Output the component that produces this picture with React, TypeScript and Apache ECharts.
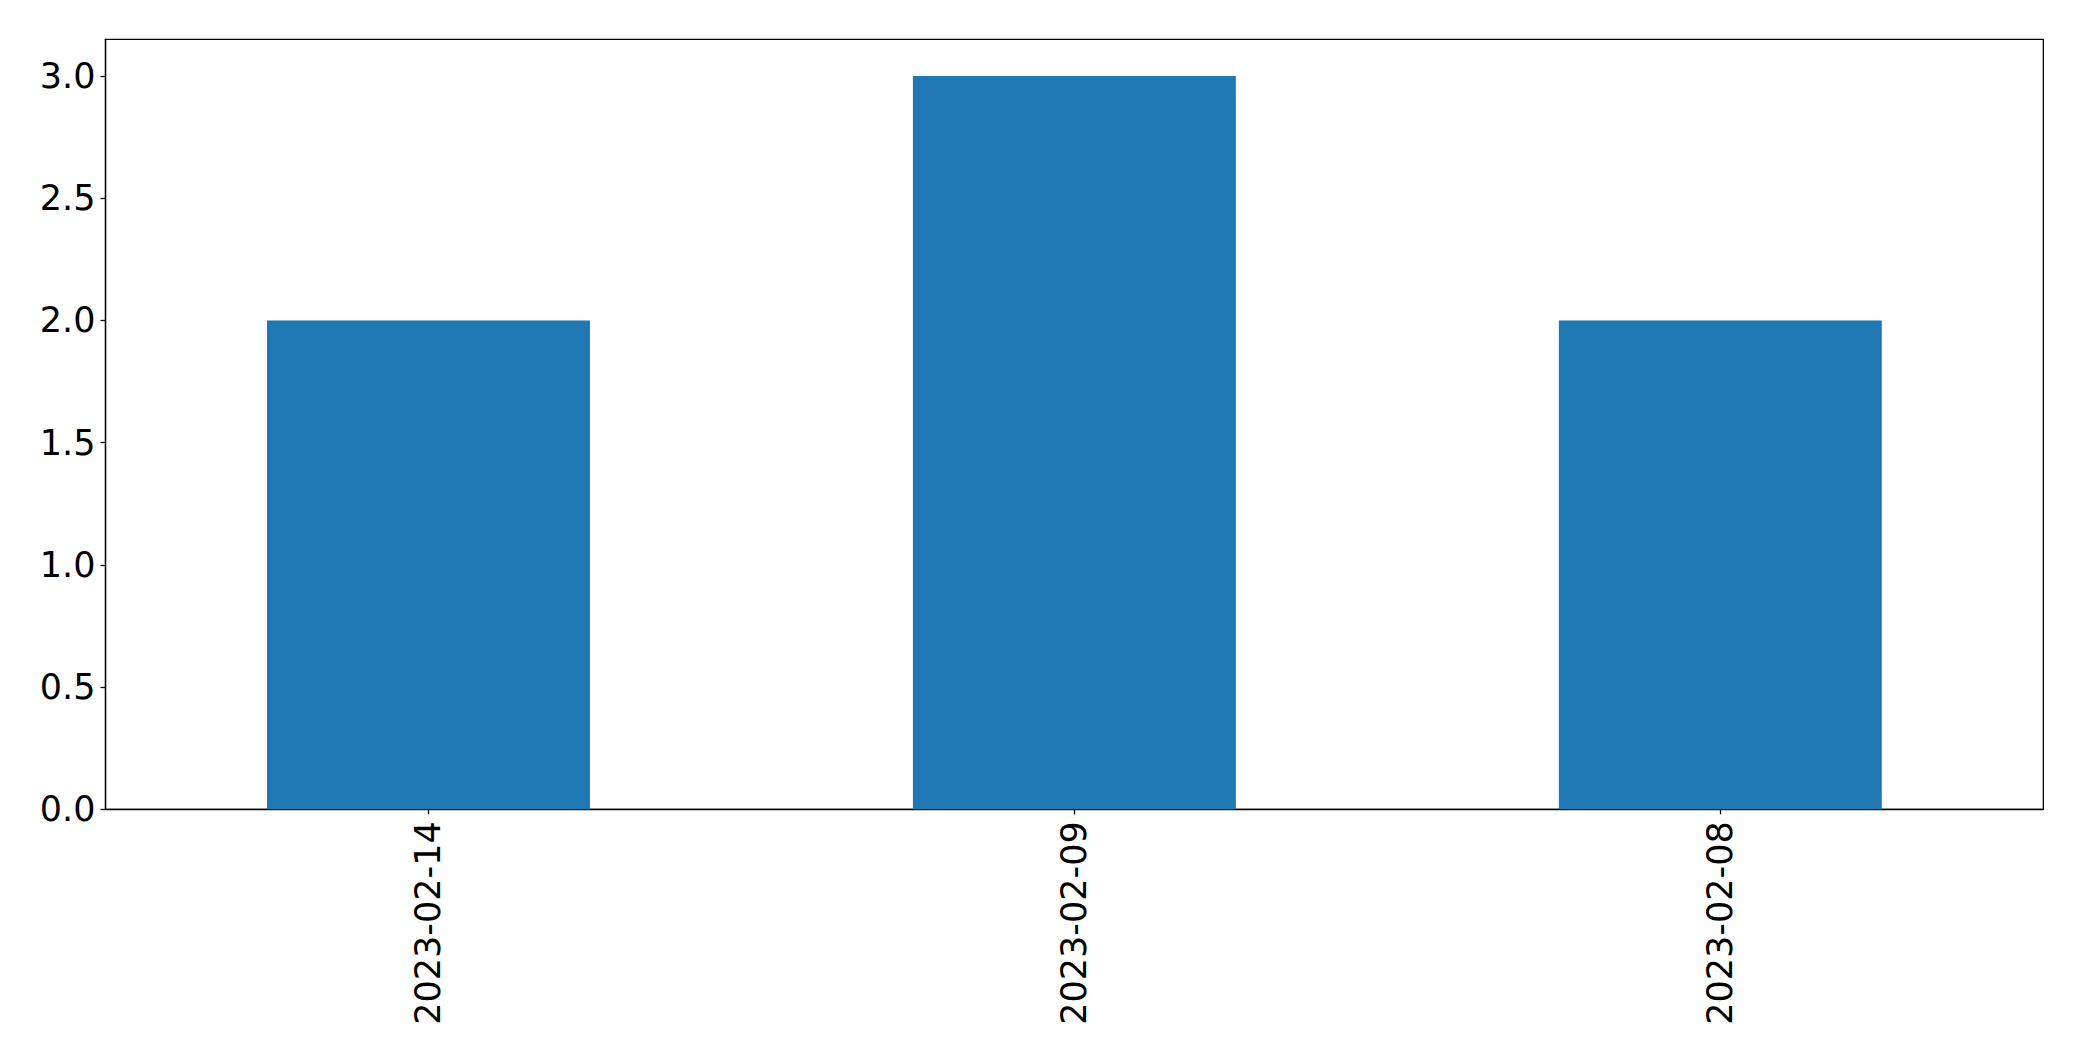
import React, { useEffect, useRef } from "react";
import * as echarts from "echarts";

const categories = ["2023-02-14", "2023-02-09", "2023-02-08"];
const values = [2, 3, 2];
const yTicks = [0, 0.5, 1.0, 1.5, 2.0, 2.5, 3.0];

export default function App() {
  const ref = useRef<HTMLDivElement>(null);
  useEffect(() => {
    document.body.style.margin = "0";
    const chart = echarts.init(ref.current!, null, { renderer: "svg" });
    chart.setOption({
      animation: false,
      backgroundColor: "#ffffff",
      grid: {
        left: 105.5,
        right: 38.7,
        top: 39.3,
        bottom: 251.7,
        show: true,
        borderColor: "#000000",
        borderWidth: 1.3,
        backgroundColor: "transparent",
      },
      xAxis: {
        type: "category",
        data: categories,
        boundaryGap: true,
        axisLine: { show: true, lineStyle: { color: "#000", width: 1.3 } },
        axisTick: { show: true, alignWithLabel: true, length: 5, lineStyle: { color: "#000", width: 1.3 } },
        axisLabel: {
          rotate: 90,
          fontSize: 35,
          color: "#000",
          fontFamily: "DejaVu Sans",
          margin: 12,
        },
        splitLine: { show: false },
      },
      yAxis: {
        type: "value",
        min: 0,
        max: 3.15,
        interval: 0.5,
        axisLine: { show: true, lineStyle: { color: "#000", width: 1.3 } },
        axisTick: { show: true, length: 5, lineStyle: { color: "#000", width: 1.3 } },
        axisLabel: {
          fontSize: 35,
          color: "#000",
          fontFamily: "DejaVu Sans",
          margin: 10,
          showMaxLabel: false,
          formatter: (v: number) =>
            yTicks.some((t) => Math.abs(t - v) < 1e-9) ? v.toFixed(1) : "",
        },
        splitLine: { show: false },
      },
      series: [
        {
          type: "bar",
          data: values,
          barWidth: "50%",
          itemStyle: { color: "#1f77b4" },
        },
      ],
    });
    return () => chart.dispose();
  }, []);
  return <div ref={ref} style={{ width: 2082, height: 1061 }} />;
}
